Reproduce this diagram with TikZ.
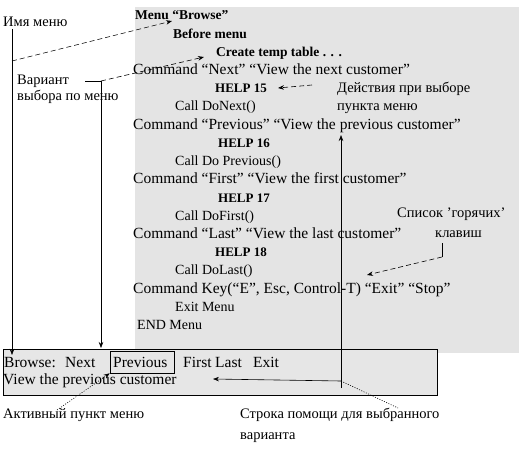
\documentclass[tikz,border=0pt]{standalone}
\usepackage{fontspec}
\setmainfont{Liberation Serif}
\usetikzlibrary{arrows.meta}
\definecolor{panelgray}{HTML}{E4E4E4}
\definecolor{boxgray}{HTML}{E6E6E6}
\tikzset{
  code/.style={anchor=base west, inner sep=0pt, font=\fontsize{14}{16}\selectfont},
  cmd/.style={code, font=\fontsize{15.5}{17}\selectfont},
  head/.style={code, font=\fontsize{13.5}{15}\selectfont\bfseries},
  helpline/.style={code, font=\fontsize{13}{15}\selectfont\bfseries},
  note/.style={anchor=base west, inner sep=0pt, font=\fontsize{14.5}{16}\selectfont},
  lead/.style={-{Stealth[length=6pt,width=4.5pt]}, line width=0.6pt},
  dashlead/.style={lead, dash pattern=on 5pt off 3pt},
  dotlead/.style={lead, dash pattern=on 1pt off 1.5pt},
  plain/.style={line width=0.6pt}
}
\begin{document}
\begin{tikzpicture}[x=1pt, y=-1pt]
\useasboundingbox (0,0) rectangle (519,449);

% Menu source panel
\fill[panelgray] (135,7) rectangle (519,353);
\node[head] (menu)    at (135,20)    {Menu “Browse”};
\node[head] (before)  at (173,38.2)  {Before menu};
\node[head] (create)  at (216,56.4)  {Create temp table . . .};
\node[cmd]  (cmdnext) at (133,74.6)  {Command “Next” “View the next customer”};
\node[helpline] (help15) at (215,92.8) {HELP 15};
\node[code] (callnext) at (175,111)  {Call DoNext()};
\node[cmd]  (cmdprev) at (133,129.2) {Command “Previous” “View the previous customer”};
\node[helpline] (help16) at (218,147.4) {HELP 16};
\node[code] (callprev) at (175,165.6) {Call Do Previous()};
\node[cmd]  (cmdfirst) at (133,183.8) {Command “First” “View the first customer”};
\node[helpline] (help17) at (218,202) {HELP 17};
\node[code] (callfirst) at (175,220.2) {Call DoFirst()};
\node[cmd]  (cmdlast) at (133,238.4) {Command “Last” “View the last customer”};
\node[helpline] (help18) at (215,256.6) {HELP 18};
\node[code] (calllast) at (175,274.8) {Call DoLast()};
\node[cmd]  (cmdkey)  at (133,293)   {Command Key(“E”, Esc, Control-T) “Exit” “Stop”};
\node[code] (exitmenu) at (175,311.2) {Exit Menu};
\node[code] (endmenu) at (137,329.4) {END Menu};

% Screen bar
\draw[plain, fill=boxgray] (3,349) rectangle (437,395);
\node[cmd] (bbrowse) at (4,367)   {Browse:};
\node[cmd] (bnext)   at (65,367)  {Next};
\node[draw, plain, minimum width=64pt, minimum height=22pt, inner sep=0pt] (bprevbox) at (142,362) {};
\node[cmd] (bprev)   at (113,367) {Previous};
\node[cmd] (bfirst)  at (183,367) {First};
\node[cmd] (blast)   at (215,367) {Last};
\node[cmd] (bexit)   at (253,367) {Exit};
\node[cmd] (bhelp)   at (3,384)   {View the previous customer};

% Notes
\node[note] (imya)    at (3,27)    {Имя меню};
\node[note] (var)     at (17,84.5) {Вариант};
\node[note] (var2)    at (17,100.5) {выбора по меню};
\node[note] (deistv)  at (337,92.5) {Действия при выборе};
\node[note] (deistv2) at (337,111) {пункта меню};
\node[note] (spisok)  at (397,218) {Список 'горячих'};
\node[note] (klav)    at (435,237) {клавиш};
\node[note] (aktiv)   at (3,418)   {Активный пункт меню};
\node[note] (stroka)  at (240,418) {Строка помощи для выбранного};
\node[note] (stroka2) at (240,439) {варианта};

% Connector points
\coordinate (imyaTop) at (12,29);
\coordinate (imyaJ)   at (12,61);
\coordinate (imyaTip) at (12,355);
\coordinate (menuTip) at (172,21);
\coordinate (varL)    at (85,81);
\coordinate (varJ)    at (101,81);
\coordinate (varTip)  at (101,348);
\coordinate (createTip) at (204,57);
\coordinate (deistvEnd) at (312,85);
\coordinate (helpTip) at (278,88);
\coordinate (klavBot) at (442,243);
\coordinate (klavJ)   at (442,257);
\coordinate (keyTip)  at (367,275);
\coordinate (strJ)    at (341,381);
\coordinate (strLow)  at (341,388);
\coordinate (prevTip) at (341,135);
\coordinate (barTip)  at (213,379);
\coordinate (strEnd)  at (398,408);
\coordinate (aktivEnd) at (57,410);

% Leaders
\draw[lead] (imyaTop) -- (imyaTip);
\draw[dashlead] (imyaJ) -- (menuTip);
\draw[plain] (varL) -- (varJ);
\draw[lead] (varJ) -- (varTip);
\draw[dashlead] (varJ) -- (createTip);
\draw[dashlead] (deistvEnd) -- (helpTip);
\draw[plain] (klavBot) -- (klavJ);
\draw[dashlead] (klavJ) -- (keyTip);
\draw[lead] (strLow) -- (prevTip);
\draw[lead] (strJ) -- (barTip);
\draw[plain, dash pattern=on 1pt off 1.5pt] (strJ) -- (strEnd);
\draw[dotlead] (aktivEnd) -- (bprevbox.south west);

\end{tikzpicture}
\end{document}
